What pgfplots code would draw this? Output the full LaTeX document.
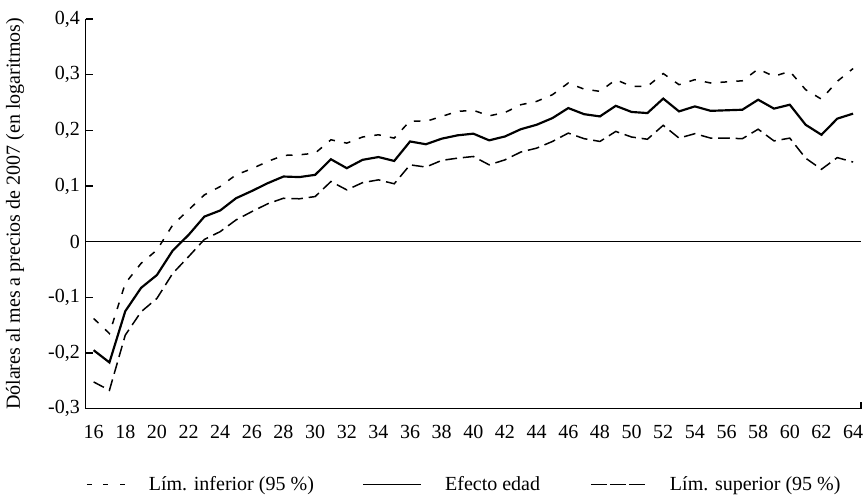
\documentclass[border=0pt]{standalone}
\usepackage{fontspec}
\setmainfont{Liberation Serif}
\usepackage{pgfplots}
\pgfplotsset{compat=1.18}
\usepackage{pgfplotstable}

% Efecto de la edad sobre el ingreso y bandas de confianza al 95 %
\pgfplotstableread{
edad efecto inf sup
16 -0.195 -0.138 -0.252
17 -0.217 -0.165 -0.267
18 -0.125 -0.075 -0.168
19 -0.083 -0.039 -0.126
20 -0.060 -0.015 -0.102
21 -0.016 0.030 -0.057
22 0.012 0.057 -0.027
23 0.045 0.084 0.004
24 0.056 0.099 0.018
25 0.078 0.120 0.039
26 0.091 0.131 0.054
27 0.105 0.144 0.068
28 0.117 0.155 0.078
29 0.116 0.156 0.077
30 0.120 0.159 0.081
31 0.148 0.183 0.108
32 0.132 0.177 0.093
33 0.147 0.188 0.106
34 0.152 0.192 0.111
35 0.145 0.186 0.104
36 0.180 0.217 0.138
37 0.175 0.216 0.134
38 0.185 0.225 0.146
39 0.191 0.234 0.150
40 0.194 0.236 0.153
41 0.182 0.226 0.138
42 0.189 0.232 0.147
43 0.202 0.246 0.161
44 0.210 0.252 0.168
45 0.222 0.264 0.180
46 0.240 0.285 0.195
47 0.229 0.274 0.185
48 0.225 0.270 0.180
49 0.244 0.291 0.198
50 0.233 0.279 0.188
51 0.231 0.279 0.184
52 0.257 0.302 0.209
53 0.234 0.282 0.186
54 0.243 0.291 0.194
55 0.235 0.285 0.186
56 0.236 0.287 0.186
57 0.237 0.289 0.185
58 0.255 0.310 0.202
59 0.239 0.297 0.181
60 0.246 0.306 0.186
61 0.210 0.273 0.150
62 0.192 0.256 0.130
63 0.221 0.288 0.151
64 0.230 0.311 0.143
}\datos

\newcommand{\fuente}{\fontsize{12}{14}\selectfont}

\begin{document}
\begin{tikzpicture}
\begin{axis}[
  name=ax,
  scale only axis,
  width=465pt, height=233.7pt,
  xmin=15.5, xmax=64.5,
  ymin=-0.3, ymax=0.4,
  axis x line*=bottom,
  axis y line*=left,
  axis line style={line width=0.9pt, black},
  xtick={16,18,...,64},
  ytick={-0.3,-0.2,-0.1,0,0.1,0.2,0.3,0.4},
  yticklabels={{-0,3},{-0,2},{-0,1},0,{0,1},{0,2},{0,3},{0,4}},
  xtick style={draw=none},
  ytick style={line width=0.9pt, black},
  tick align=inside,
  major tick length=4.2pt,
  /pgf/number format/assume math mode=true,
  ticklabel style={font=\fuente},
  xticklabel style={yshift=-6.5pt},
  ylabel={Dólares al mes a precios de 2007 (en logaritmos)},
  ylabel style={at={(axis description cs:-0.091,0.5)}, anchor=center, font=\fuente},
  clip=false,
  legend columns=3,
  legend style={draw=none, fill=none, inner sep=0pt,
    at={(axis description cs:0,-0.195)}, anchor=west, font=\fuente,
    /tikz/every odd column/.append style={column sep=12pt},
    /tikz/column 2/.append style={column sep=27pt},
    /tikz/column 4/.append style={column sep=28pt}},
]
% eje horizontal en cero
\addplot[black, line width=0.6pt, forget plot] coordinates {(15.5,0) (64.5,0)};

\addplot[black, line width=0.9pt, dash pattern=on 4pt off 5.5pt,
  legend image code/.code={\draw[black, line width=0.9pt, dash pattern=on 3pt off 7pt] (0pt,0pt) -- (22.8pt,0pt);}]
  table[x=edad, y=inf] {\datos};
\addlegendentry{Lím. inferior (95 \%)}

\addplot[black, line width=1.3pt,
  legend image code/.code={\draw[black, line width=0.9pt] (0pt,0pt) -- (34.8pt,0pt);}]
  table[x=edad, y=efecto] {\datos};
\addlegendentry{Efecto edad}

\addplot[black, line width=0.9pt, dash pattern=on 7pt off 3.5pt,
  legend image code/.code={\draw[black, line width=0.9pt, dash pattern=on 9.6pt off 1.8pt] (0pt,0pt) -- (33pt,0pt);}]
  table[x=edad, y=sup] {\datos};
\addlegendentry{Lím. superior (95 \%)}
\end{axis}
% marca de cierre del eje horizontal
\draw[line width=0.9pt] (ax.south east) -- ++(0pt,4pt);
\pgfresetboundingbox
\path[use as bounding box] ([xshift=-51.4pt,yshift=-51.9pt]ax.south west) rectangle ([xshift=4.2pt,yshift=11.4pt]ax.north east);
\end{tikzpicture}
\end{document}
